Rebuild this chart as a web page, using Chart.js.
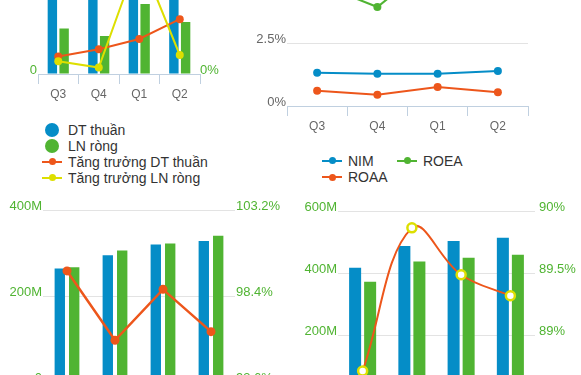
<!DOCTYPE html>
<html><head><meta charset="utf-8">
<script src="https://cdn.jsdelivr.net/npm/chart.js@4.4.1/dist/chart.umd.min.js"></script>
<style>
html,body{margin:0;padding:0;width:581px;height:375px;overflow:hidden;background:#fff;}
body{position:relative;}
canvas{position:absolute;}
.legend{position:absolute;font-family:'Liberation Sans',Arial,sans-serif;font-size:14px;color:#333;}
.legend .item{position:absolute;height:16px;display:flex;align-items:center;white-space:nowrap;}
.legend .sym{width:20px;height:16px;position:relative;margin-right:6px;flex:none;}
.legend .sym i{position:absolute;display:block;}
</style></head><body>
<canvas id="cA"></canvas>
<canvas id="cB"></canvas>
<canvas id="cC"></canvas>
<canvas id="cD"></canvas>
<div class="legend" id="legA" style="left:42px;top:122px;"></div>
<div class="legend" id="legB" style="left:322px;top:152.5px;"></div>
<script>
// ---------- data ----------
const quarters = ['Q3', 'Q4', 'Q1', 'Q2'];

// top-left: revenue / profit and their growth
const dtThuan = [230, 215, 320, 290];
const lnRong = [91, 76, 140, 104];
const tangTruongDT = [8.7, 12.4, 17.5, 27.4];
const tangTruongLN = [6.4, 3.2, 59.5, 9.5];

// top-right: ratios (%)
const nim = [1.33, 1.29, 1.29, 1.40];
const roea = [4.9, 3.95, 5.9, 5.4];
const roaa = [0.61, 0.45, 0.76, 0.55];

// bottom-left (M) and ratio (%)
const seriesC1 = [264, 295, 320, 328];
const seriesC2 = [267, 306, 322, 340];
const ratioC = [99.8, 95.93, 98.77, 96.41];
const ticksCRight = [93.6, 98.4, 103.2];

// bottom-right (M) and ratio (%)
const seriesD1 = [419, 489, 505, 516];
const seriesD2 = [373, 439, 451, 461];
const ratioD = [88.71, 89.87, 89.49, 89.32];
const ticksDRight = [88.5, 89, 89.5, 90];

// ---------- style ----------
const BLUE = '#058DC7', GREEN = '#50B432', ORANGE = '#ED561B', YELLOW = '#DDDF00';
const LABEL_GREEN = '#50B432', LABEL_GRAY = '#666666';
const GRID = '#e3e3e3', AXIS = '#C0D0E0';
Chart.defaults.font.family = "'Liberation Sans', Arial, sans-serif";
Chart.defaults.animation = false;

function place(id, left, top, w, h) {
  const c = document.getElementById(id);
  c.width = w; c.height = h;
  c.style.left = left + 'px'; c.style.top = top + 'px';
  c.style.width = w + 'px'; c.style.height = h + 'px';
  return c;
}
function xAxis() {
  return {
    type: 'category', offset: true,
    grid: { display: true, drawOnChartArea: false, drawTicks: true, tickLength: 10, color: AXIS, offset: true },
    border: { display: true, color: AXIS, width: 1 },
    ticks: { color: LABEL_GRAY, font: { size: 12 }, padding: 3, maxRotation: 0, autoSkip: false },
    afterFit: s => { s.height = 30; }
  };
}
function yAxis(pos, width, color, pad, extra) {
  return Object.assign({
    position: pos,
    grid: pos === 'left'
      ? { drawTicks: false, color: c => (c.index === 0 ? 'rgba(0,0,0,0)' : GRID) }
      : { drawTicks: false, drawOnChartArea: false },
    border: { display: false },
    afterFit: s => { s.width = width; }
  }, extra, {
    ticks: Object.assign({ color: color, font: { size: 13 }, padding: pad, labelOffset: -4 }, extra.ticks || {})
  });
}
const basePlugins = { legend: { display: false }, tooltip: { enabled: false } };

// ---------- chart A ----------
const chartA = new Chart(place('cA', 0, -136, 250, 240), {
  type: 'bar',
  data: {
    labels: quarters,
    datasets: [
      { label: 'DT thuần', data: dtThuan, backgroundColor: BLUE, yAxisID: 'y', order: 2,
        categoryPercentage: 0.58, barPercentage: 0.8 },
      { label: 'LN ròng', data: lnRong, backgroundColor: GREEN, yAxisID: 'y', order: 2,
        categoryPercentage: 0.58, barPercentage: 0.8 },
      { type: 'line', label: 'Tăng trưởng DT thuần', data: tangTruongDT, yAxisID: 'y1', order: 1,
        borderColor: ORANGE, backgroundColor: ORANGE, pointBackgroundColor: ORANGE, pointBorderColor: ORANGE,
        borderWidth: 2, pointRadius: 4, pointBorderWidth: 0, tension: 0 },
      { type: 'line', label: 'Tăng trưởng LN ròng', data: tangTruongLN, yAxisID: 'y1', order: 0,
        borderColor: YELLOW, backgroundColor: YELLOW, pointBackgroundColor: YELLOW, pointBorderColor: YELLOW,
        borderWidth: 2, pointRadius: 4, pointBorderWidth: 0, tension: 0 }
    ]
  },
  options: {
    responsive: false, devicePixelRatio: 1,
    layout: { padding: { top: 10, left: 0, right: 0, bottom: 0 } },
    plugins: basePlugins,
    scales: {
      x: xAxis(),
      y: yAxis('left', 38, LABEL_GREEN, 1, { min: 0, max: 400,
        ticks: { stepSize: 200, callback: v => (v === 0 ? '0' : v) } }),
      y1: yAxis('right', 50, LABEL_GREEN, 0, { min: 0, max: 100,
        ticks: { stepSize: 50, callback: v => v + '%' } })
    }
  }
});

// ---------- chart B ----------
function lineDs(label, data, color) {
  return { label: label, data: data, borderColor: color, backgroundColor: color,
    pointBackgroundColor: color, pointBorderColor: color, borderWidth: 2,
    pointRadius: 4, pointBorderWidth: 0, tension: 0 };
}
const chartB = new Chart(place('cB', 250, -92, 290, 228), {
  type: 'line',
  data: {
    labels: quarters,
    datasets: [ lineDs('NIM', nim, BLUE), lineDs('ROEA', roea, GREEN), lineDs('ROAA', roaa, ORANGE) ]
  },
  options: {
    responsive: false, devicePixelRatio: 1,
    layout: { padding: { top: 10, left: 0, right: 12, bottom: 0 } },
    plugins: basePlugins,
    scales: {
      x: xAxis(),
      y: yAxis('left', 37, LABEL_GRAY, 1, { min: 0, max: 7.5,
        ticks: { stepSize: 2.5, callback: v => v + '%' } })
    }
  }
});

// ---------- chart C ----------
new Chart(place('cC', 0, 200, 285, 212), {
  type: 'bar',
  data: {
    labels: quarters,
    datasets: [
      { label: 'C1', data: seriesC1, backgroundColor: BLUE, yAxisID: 'y', order: 1,
        categoryPercentage: 0.6, barPercentage: 0.72 },
      { label: 'C2', data: seriesC2, backgroundColor: GREEN, yAxisID: 'y', order: 1,
        categoryPercentage: 0.6, barPercentage: 0.72 },
      { type: 'line', label: 'C%', data: ratioC, yAxisID: 'y1', order: 0,
        borderColor: ORANGE, backgroundColor: ORANGE, pointBackgroundColor: ORANGE, pointBorderColor: ORANGE,
        borderWidth: 2.5, pointRadius: 4.5, pointBorderWidth: 0, tension: 0 }
    ]
  },
  options: {
    responsive: false, devicePixelRatio: 1,
    layout: { padding: { top: 10, left: 0, right: 0, bottom: 0 } },
    plugins: basePlugins,
    scales: {
      x: xAxis(),
      y: yAxis('left', 43, LABEL_GREEN, 1, { min: 0, max: 400,
        ticks: { stepSize: 200, callback: v => (v === 0 ? '0' : v + 'M') } }),
      y1: yAxis('right', 50, LABEL_GREEN, 1, { min: ticksCRight[0], max: ticksCRight[ticksCRight.length - 1],
        afterBuildTicks: s => { s.ticks = ticksCRight.map(v => ({ value: v })); },
        ticks: { callback: v => v.toFixed(1) + '%' } })
    }
  }
});

// ---------- chart D ----------
new Chart(place('cD', 290, 200, 291, 227), {
  type: 'bar',
  data: {
    labels: quarters,
    datasets: [
      { label: 'D1', data: seriesD1, backgroundColor: BLUE, yAxisID: 'y', order: 1,
        categoryPercentage: 0.61, barPercentage: 0.8 },
      { label: 'D2', data: seriesD2, backgroundColor: GREEN, yAxisID: 'y', order: 1,
        categoryPercentage: 0.61, barPercentage: 0.8 },
      { type: 'line', label: 'D%', data: ratioD, yAxisID: 'y1', order: 0,
        borderColor: ORANGE, backgroundColor: '#ffffff', pointBackgroundColor: '#ffffff', pointBorderColor: YELLOW,
        borderWidth: 2, pointRadius: 4.5, pointBorderWidth: 2.5, tension: 0.4 }
    ]
  },
  options: {
    responsive: false, devicePixelRatio: 1,
    layout: { padding: { top: 10, left: 0, right: 0, bottom: 0 } },
    plugins: basePlugins,
    scales: {
      x: xAxis(),
      y: yAxis('left', 48, LABEL_GREEN, 1, { min: 0, max: 600,
        ticks: { stepSize: 200, callback: v => (v === 0 ? '0' : v + 'M') } }),
      y1: yAxis('right', 46, LABEL_GREEN, 4, { min: ticksDRight[0], max: ticksDRight[ticksDRight.length - 1],
        afterBuildTicks: s => { s.ticks = ticksDRight.map(v => ({ value: v })); },
        ticks: { callback: v => (Math.round(v * 10) / 10) + '%' } })
    }
  }
});

// ---------- HTML legends built from the chart datasets ----------
function buildLegend(id, chart, positions) {
  const el = document.getElementById(id);
  chart.data.datasets.forEach((ds, i) => {
    const item = document.createElement('div');
    item.className = 'item';
    item.style.left = positions[i][0] + 'px';
    item.style.top = positions[i][1] + 'px';
    const sym = document.createElement('span');
    sym.className = 'sym';
    const type = ds.type || chart.config.type;
    if (type === 'bar') {
      sym.innerHTML = '<i style="left:3px;top:1px;width:14px;height:14px;border-radius:50%;background:' + ds.backgroundColor + '"></i>';
    } else {
      sym.innerHTML = '<i style="left:0;top:7px;width:20px;height:2px;background:' + ds.borderColor + '"></i>' +
        '<i style="left:6.5px;top:4.5px;width:7px;height:7px;border-radius:50%;background:' + ds.pointBackgroundColor + '"></i>';
    }
    const txt = document.createElement('span');
    txt.textContent = ds.label;
    item.appendChild(sym); item.appendChild(txt);
    el.appendChild(item);
  });
}
buildLegend('legA', chartA, [[0, 0], [0, 15.6], [0, 31.6], [0, 47.6]]);
buildLegend('legB', chartB, [[0, 0], [75, 0], [0, 16.6]]);
</script>
</body></html>
